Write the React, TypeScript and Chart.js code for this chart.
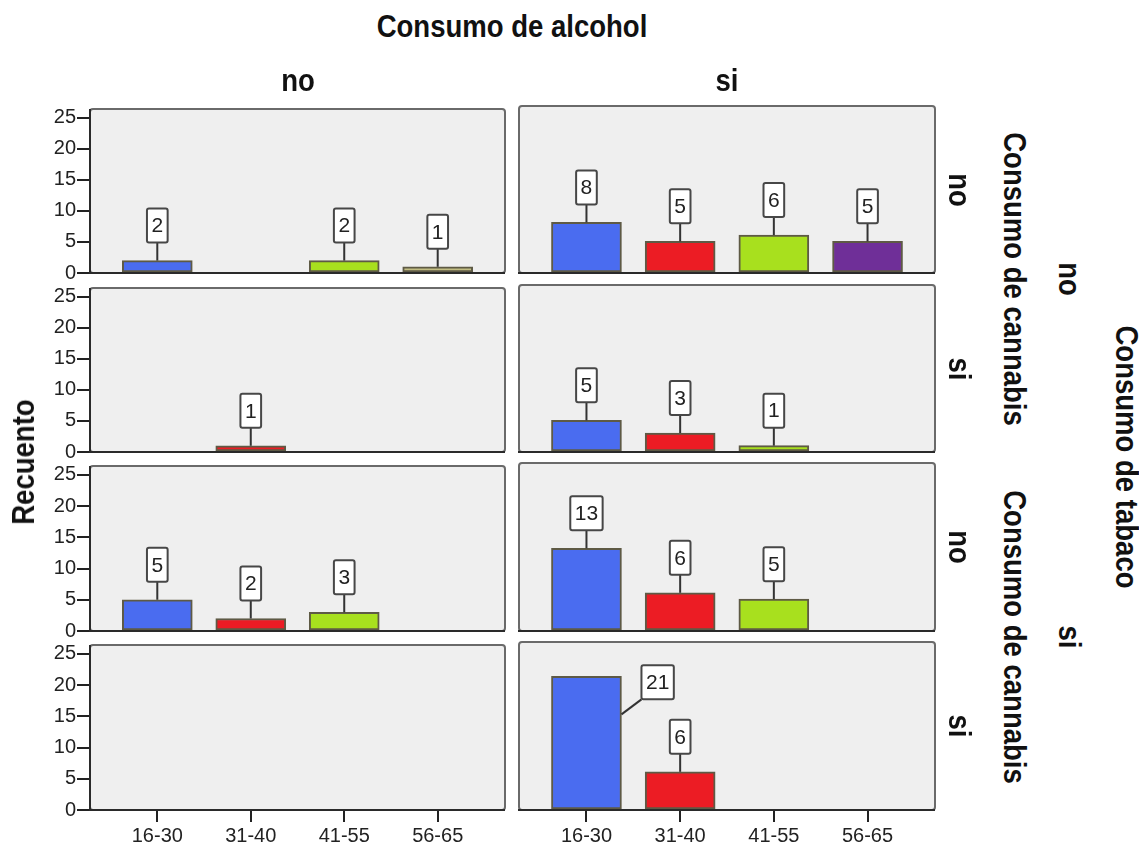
import { useEffect, useRef } from "react";
import { Chart, registerables } from "chart.js";
Chart.register(...registerables);

// ---------- DATA ----------
const ageGroups = ["16-30", "31-40", "41-55", "56-65"];
const yTickValues = [0, 5, 10, 15, 20, 25];
const yMax = 26.4;
const alcoholLevels = ["no", "si"];
const tobaccoLevels = ["no", "si"];
const cannabisLevels = ["no", "si"];

// Recuento per age group (null = no bar). Name: alcohol_tobacco_cannabis
const counts_aNo_tNo_cNo: (number | null)[] = [2, null, 2, 1];
const counts_aSi_tNo_cNo: (number | null)[] = [8, 5, 6, 5];
const counts_aNo_tNo_cSi: (number | null)[] = [null, 1, null, null];
const counts_aSi_tNo_cSi: (number | null)[] = [5, 3, 1, null];
const counts_aNo_tSi_cNo: (number | null)[] = [5, 2, 3, null];
const counts_aSi_tSi_cNo: (number | null)[] = [13, 6, 5, null];
const counts_aNo_tSi_cSi: (number | null)[] = [null, null, null, null];
const counts_aSi_tSi_cSi: (number | null)[] = [21, 6, null, null];

const ageColors = ["#4a6cf0", "#ec1c24", "#a8e01e", "#6f2f98"];
const altColor56 = "#c2bd82";

// ---------- LAYOUT / STYLE ----------
const COL_X = [
  [90, 505],
  [519, 935],
];
const ROW_Y = [
  [106, 273],
  [285, 452],
  [463, 631],
  [642, 810],
];
const PAD_L = 50;
const PAD_T = 10;
const PAD_R = 10;
const PAD_B = 45;
const FONT = '"Liberation Sans", Arial, sans-serif';

type Panel = { row: number; col: number; values: (number | null)[]; colors: string[] };

const panels: Panel[] = [
  { row: 0, col: 0, values: counts_aNo_tNo_cNo, colors: [ageColors[0], ageColors[1], ageColors[2], altColor56] },
  { row: 0, col: 1, values: counts_aSi_tNo_cNo, colors: ageColors },
  { row: 1, col: 0, values: counts_aNo_tNo_cSi, colors: ageColors },
  { row: 1, col: 1, values: counts_aSi_tNo_cSi, colors: ageColors },
  { row: 2, col: 0, values: counts_aNo_tSi_cNo, colors: ageColors },
  { row: 2, col: 1, values: counts_aSi_tSi_cNo, colors: ageColors },
  { row: 3, col: 0, values: counts_aNo_tSi_cSi, colors: ageColors },
  { row: 3, col: 1, values: counts_aSi_tSi_cSi, colors: ageColors },
];

const decorPlugin = {
  id: "panelDecor",
  beforeDraw(chart: any) {
    const { ctx, chartArea: a } = chart;
    ctx.save();
    ctx.fillStyle = "#efefef";
    ctx.fillRect(a.left, a.top, a.right - a.left, a.bottom - a.top);
    ctx.restore();
  },
  afterDatasetsDraw(chart: any, _args: any, opts: any) {
    const { ctx, chartArea: a } = chart;
    ctx.save();
    // frame
    ctx.strokeStyle = "#6a6a6a";
    ctx.lineWidth = 2;
    ctx.beginPath();
    ctx.roundRect(a.left, a.top, a.right - a.left, a.bottom - a.top, 3);
    ctx.stroke();
    // axis lines
    ctx.strokeStyle = "#2a2a2a";
    ctx.beginPath();
    ctx.moveTo(a.left - 1, a.bottom);
    ctx.lineTo(a.right, a.bottom);
    if (opts.isLeft) {
      ctx.moveTo(a.left, a.top);
      ctx.lineTo(a.left, a.bottom);
    }
    ctx.stroke();

    // value labels
    const meta = chart.getDatasetMeta(0);
    const ds = chart.data.datasets[0];
    ctx.font = `21px ${FONT}`;
    meta.data.forEach((bar: any, i: number) => {
      const v = ds.data[i].y;
      const text = String(v);
      const tw = ctx.measureText(text).width;
      const bw = tw + 9;
      const bh = 34;
      const { x, y, width } = bar.getProps(["x", "y", "width"], true);
      const gap = 18;
      let bx: number, by: number, lx1: number, ly1: number, lx2: number, ly2: number;
      if (y - gap - bh < a.top + 4) {
        bx = x + width / 2 + 20;
        by = y - 11;
        lx1 = x + width / 2;
        ly1 = y + 38;
        lx2 = bx;
        ly2 = by + bh;
      } else {
        bx = x - bw / 2;
        by = y - gap - bh;
        lx1 = x;
        ly1 = y;
        lx2 = x;
        ly2 = by + bh;
      }
      ctx.strokeStyle = "#333";
      ctx.lineWidth = 2;
      ctx.beginPath();
      ctx.moveTo(lx1, ly1);
      ctx.lineTo(lx2, ly2);
      ctx.stroke();
      ctx.fillStyle = "#ffffff";
      ctx.strokeStyle = "#474747";
      ctx.beginPath();
      ctx.roundRect(bx, by, bw, bh, 2);
      ctx.fill();
      ctx.stroke();
      ctx.fillStyle = "#222";
      ctx.textAlign = "center";
      ctx.textBaseline = "middle";
      ctx.fillText(text, bx + bw / 2, by + bh / 2 + 1);
    });
    ctx.restore();
  },
};

function PanelChart({ panel }: { panel: Panel }) {
  const ref = useRef<HTMLCanvasElement>(null);
  const [x0, x1] = COL_X[panel.col];
  const [y0, y1] = ROW_Y[panel.row];
  const W = x1 - x0 + PAD_L + PAD_R;
  const H = y1 - y0 + PAD_T + PAD_B;
  const isLeft = panel.col === 0;
  const isBottom = panel.row === ROW_Y.length - 1;

  useEffect(() => {
    const points: { x: number; y: number }[] = [];
    const colors: string[] = [];
    panel.values.forEach((v, i) => {
      if (v !== null) {
        points.push({ x: i, y: v });
        colors.push(panel.colors[i]);
      }
    });
    const chart = new Chart(ref.current as HTMLCanvasElement, {
      type: "bar",
      data: {
        datasets: [
          {
            data: points as any,
            backgroundColor: colors,
            borderColor: "#5e5a45",
            borderWidth: 2,
            barThickness: 70,
            borderSkipped: false,
          },
        ],
      },
      plugins: [decorPlugin],
      options: {
        responsive: false,
        animation: false,
        events: [],
        layout: { padding: { left: 0, top: PAD_T, right: PAD_R, bottom: 0 } },
        plugins: {
          legend: { display: false },
          tooltip: { enabled: false },
          panelDecor: { isLeft, isBottom },
        } as any,
        scales: {
          x: {
            type: "linear",
            min: -0.72,
            max: 3.72,
            offset: false,
            afterBuildTicks: (s: any) => {
              s.ticks = ageGroups.map((_, i) => ({ value: i }));
            },
            afterFit: (s: any) => {
              s.height = PAD_B;
            },
            ticks: {
              display: isBottom,
              autoSkip: false,
              maxRotation: 0,
              padding: 2,
              color: "#222",
              font: { size: 20, family: FONT },
              callback: (v: any) => ageGroups[v] ?? "",
            },
            grid: {
              offset: false,
              drawOnChartArea: false,
              drawTicks: isBottom,
              tickLength: 12,
              color: "#222",
              lineWidth: 2,
            },
            border: { display: false },
          },
          y: {
            type: "linear",
            min: 0,
            max: yMax,
            afterBuildTicks: (s: any) => {
              s.ticks = yTickValues.map((v) => ({ value: v }));
            },
            afterFit: (s: any) => {
              s.width = PAD_L;
            },
            ticks: {
              display: isLeft,
              padding: 1,
              color: "#222",
              font: { size: 20, family: FONT },
            },
            grid: {
              drawOnChartArea: false,
              drawTicks: isLeft,
              tickLength: 13,
              color: "#222",
              lineWidth: 2,
            },
            border: { display: false },
          },
        },
      } as any,
    });
    return () => chart.destroy();
  }, []);

  return (
    <canvas
      ref={ref}
      width={W}
      height={H}
      style={{ position: "absolute", left: x0 - PAD_L, top: y0 - PAD_T, width: W, height: H }}
    />
  );
}

function Label({
  text,
  cx,
  cy,
  rotate = 0,
}: {
  text: string;
  cx: number;
  cy: number;
  rotate?: number;
}) {
  return (
    <div
      style={{
        position: "absolute",
        left: cx,
        top: cy,
        transform: `translate(-50%, -50%) rotate(${rotate}deg) scaleX(0.86)`,
        fontFamily: FONT,
        fontWeight: "bold",
        fontSize: 32,
        lineHeight: 1,
        whiteSpace: "nowrap",
        color: "#111",
      }}
    >
      {text}
    </div>
  );
}

export default function App() {
  const rowCenters = ROW_Y.map(([a, b]) => (a + b) / 2);
  const colCenters = COL_X.map(([a, b]) => (a + b) / 2);
  return (
    <div
      style={{
        position: "absolute",
        left: 0,
        top: 0,
        width: 1139,
        height: 843,
        background: "#ffffff",
        overflow: "hidden",
      }}
    >
      {panels.map((p, i) => (
        <PanelChart key={i} panel={p} />
      ))}
      <Label text="Consumo de alcohol" cx={512} cy={26} />
      {alcoholLevels.map((t, i) => (
        <Label key={"a" + i} text={t} cx={colCenters[i] + 0} cy={80} />
      ))}
      {rowCenters.map((c, i) => (
        <Label key={"c" + i} text={cannabisLevels[i % 2]} cx={960} cy={c} rotate={90} />
      ))}
      <Label text="Consumo de cannabis" cx={1015} cy={(ROW_Y[0][0] + ROW_Y[1][1]) / 2} rotate={90} />
      <Label text="Consumo de cannabis" cx={1015} cy={(ROW_Y[2][0] + ROW_Y[3][1]) / 2} rotate={90} />
      <Label text={tobaccoLevels[0]} cx={1070} cy={(ROW_Y[0][0] + ROW_Y[1][1]) / 2} rotate={90} />
      <Label text={tobaccoLevels[1]} cx={1070} cy={(ROW_Y[2][0] + ROW_Y[3][1]) / 2} rotate={90} />
      <Label text="Consumo de tabaco" cx={1127} cy={457} rotate={90} />
      <Label text="Recuento" cx={23} cy={462} rotate={-90} />
    </div>
  );
}
